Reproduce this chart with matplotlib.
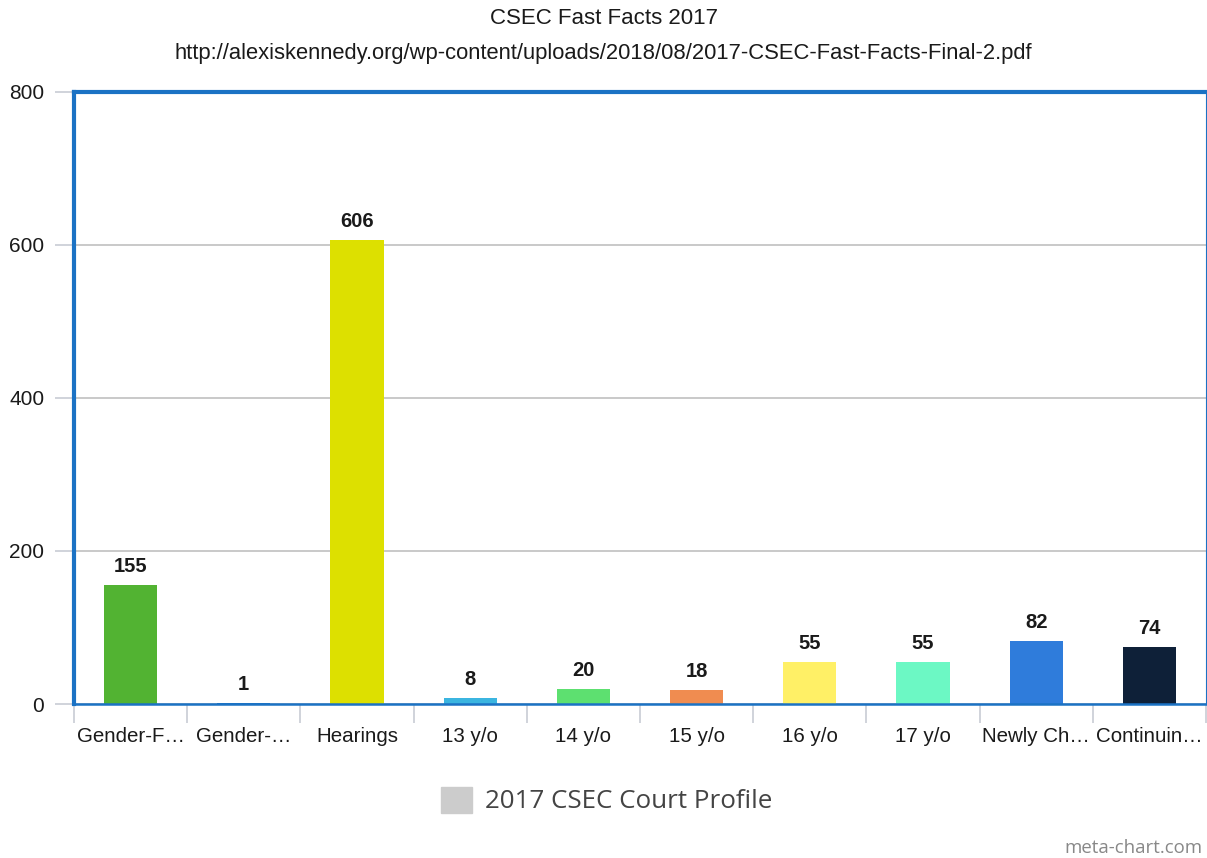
import matplotlib.pyplot as plt
from matplotlib.patches import Rectangle

categories = ['Gender-F…', 'Gender-…', 'Hearings', '13 y/o', '14 y/o', '15 y/o',
              '16 y/o', '17 y/o', 'Newly Ch…', 'Continuin…']
values = [155, 1, 606, 8, 20, 18, 55, 55, 82, 74]
colors = ['#52b332', '#1b72c4', '#dde000', '#3bb5e0', '#5de070', '#f08c50',
          '#fff066', '#6cf8c4', '#2f7cdb', '#0e2038']
y_ticks = [0, 200, 400, 600, 800]

plt.rcParams['font.family'] = ['Liberation Sans', 'DejaVu Sans']

fig = plt.figure(figsize=(12.07, 8.58), dpi=100)
ax = fig.add_axes([74 / 1207, 1 - 704 / 858, 1 - 75 / 1207, (704 - 92) / 858])

x = list(range(len(categories)))
ax.bar(x, values, width=0.47, color=colors, zorder=2)
for xi, v in zip(x, values):
    ax.annotate(str(v), (xi, v), xytext=(0, 6.5), textcoords='offset points',
                ha='center', va='bottom', fontsize=14.5, fontweight='bold',
                color='#1a1a1a')

ax.set_xlim(-0.5, len(categories) - 0.5)
ax.set_ylim(0, 800)
ax.set_yticks(y_ticks)
ax.set_yticklabels([str(t) for t in y_ticks], fontsize=15, color='#1a1a1a')
ax.tick_params(axis='y', length=14, width=1.2, color='#c8ccd4', pad=7.5)
ax.grid(axis='y', color='#c0c0c0', linewidth=1.2, zorder=0)

ax.set_xticks(x)
ax.set_xticklabels(categories, fontsize=14.8, color='#1a1a1a')
ax.tick_params(axis='x', which='major', length=0, pad=16.5)
ax.set_xticks([i - 0.5 for i in range(len(categories) + 1)], minor=True)
ax.tick_params(axis='x', which='minor', length=14, width=1.2, color='#c8ccd4')

for side in ['left', 'top']:
    ax.spines[side].set_color('#1b72c4')
    ax.spines[side].set_linewidth(3)
ax.spines['bottom'].set_color('#1b72c4')
ax.spines['bottom'].set_linewidth(1.8)
ax.spines['right'].set_color('#1b72c4')
ax.spines['right'].set_linewidth(0.8)

fig.text(0.5, 1 - 18 / 858, 'CSEC Fast Facts 2017', ha='center', va='center',
         fontsize=16, color='#1a1a1a')
fig.text(0.5, 1 - 53 / 858,
         'http://alexiskennedy.org/wp-content/uploads/2018/08/2017-CSEC-Fast-Facts-Final-2.pdf',
         ha='center', va='center', fontsize=15.8, color='#1a1a1a')

# legend swatch and label
fig.patches.append(Rectangle((441 / 1207, 1 - 813 / 858), 31 / 1207, 26 / 858,
                             transform=fig.transFigure, color='#cccccc'))
fig.text(485 / 1207, 1 - 801 / 858, '2017 CSEC Court Profile', ha='left', va='center',
         fontsize=18.7, color='#444444', family=['Open Sans', 'DejaVu Sans'])
fig.text(1203 / 1207, 1 - 848 / 858, 'meta-chart.com', ha='right', va='center',
         fontsize=13.4, color='#888888', family=['Open Sans', 'DejaVu Sans'])

fig.savefig('out.png', dpi=100)
